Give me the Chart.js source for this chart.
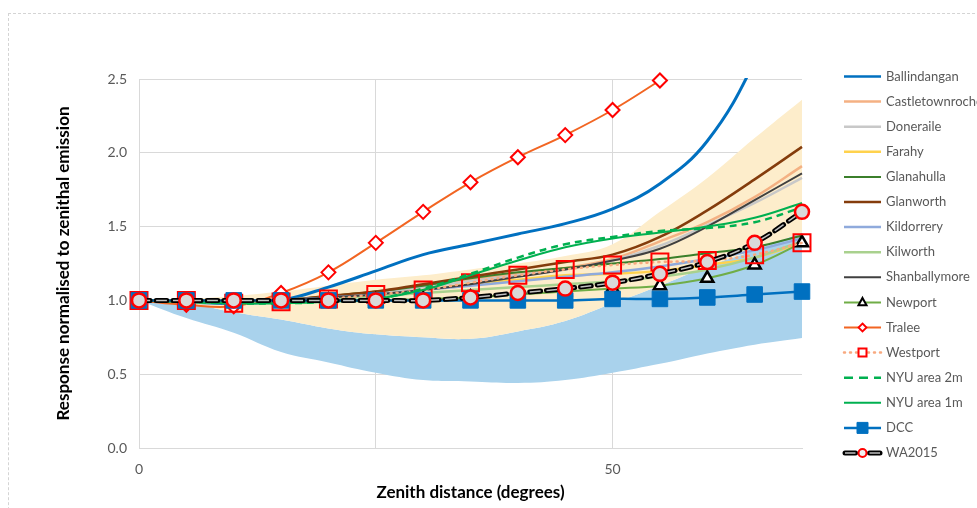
<!DOCTYPE html>
<html>
<head>
<meta charset="utf-8">
<script src="https://cdn.jsdelivr.net/npm/chart.js@4.4.1/dist/chart.umd.min.js"></script>
<style>
  html, body { margin: 0; padding: 0; background: #fff; overflow: hidden; }
  #wrap { position: relative; width: 977px; height: 508px; overflow: hidden; }
  #frame { position: absolute; left: 8px; top: 13px; width: 1000px; height: 600px; border: 1px dashed #d4d4d4; }
  #c { position: absolute; left: 0; top: 0; }
</style>
</head>
<body>
<div id="wrap"><div id="frame"></div><canvas id="c" width="977" height="508"></canvas></div>
<script>
// zenith distance, degrees
const zenith = [0, 5, 10, 15, 20, 25, 30, 35, 40, 45, 50, 55, 60, 65, 70];

// shaded ranges
const blueLow   = [1.00, 0.88, 0.78, 0.65, 0.58, 0.51, 0.46, 0.45, 0.44, 0.46, 0.51, 0.57, 0.64, 0.70, 0.745];
const blueHigh  = [1.00, 0.98, 0.92, 0.87, 0.81, 0.77, 0.75, 0.74, 0.79, 0.86, 0.98, 1.10, 1.23, 1.34, 1.46];
const creamHigh = [1.00, 1.01, 1.03, 1.06, 1.10, 1.14, 1.17, 1.21, 1.25, 1.30, 1.38, 1.60, 1.83, 2.10, 2.36];

// sites
const ballindangan    = [1.00, 0.99, 0.98, 1.00, 1.09, 1.20, 1.31, 1.38, 1.45, 1.52, 1.62, 1.79, 2.08, 2.62, 3.40];
const castletownroche = [1.00, 0.99, 0.99, 1.00, 1.03, 1.06, 1.10, 1.14, 1.18, 1.22, 1.28, 1.40, 1.53, 1.70, 1.91];
const doneraile       = [1.00, 0.99, 0.99, 1.00, 1.02, 1.05, 1.09, 1.13, 1.17, 1.21, 1.27, 1.37, 1.51, 1.66, 1.83];
const farahy          = [1.00, 0.99, 0.99, 1.00, 1.02, 1.04, 1.07, 1.11, 1.14, 1.17, 1.18, 1.20, 1.24, 1.29, 1.39];
const glanahulla      = [1.00, 0.99, 0.99, 1.00, 1.03, 1.06, 1.10, 1.15, 1.19, 1.22, 1.25, 1.28, 1.32, 1.36, 1.44];
const glanworth       = [1.00, 0.99, 0.99, 1.00, 1.03, 1.06, 1.11, 1.16, 1.21, 1.26, 1.31, 1.43, 1.61, 1.82, 2.04];
const kildorrery      = [1.00, 0.99, 0.99, 1.00, 1.02, 1.04, 1.07, 1.10, 1.13, 1.16, 1.19, 1.23, 1.28, 1.34, 1.42];
const kilworth        = [1.00, 0.99, 0.99, 1.00, 1.01, 1.03, 1.05, 1.07, 1.09, 1.11, 1.13, 1.16, 1.21, 1.29, 1.40];
const shanballymore   = [1.00, 0.99, 0.99, 1.00, 1.02, 1.04, 1.07, 1.11, 1.16, 1.21, 1.27, 1.35, 1.50, 1.68, 1.86];
const newport         = [1.00, 0.99, 0.99, 0.99, 1.00, 1.00, 1.01, 1.02, 1.04, 1.06, 1.08, 1.10, 1.15, 1.24, 1.39];
const tralee          = [1.00, 0.97, 0.96, 1.05, 1.19, 1.39, 1.60, 1.80, 1.97, 2.12, 2.29, 2.49, null, null, null];
const westport        = [1.00, 1.00, 0.98, 0.99, 1.01, 1.04, 1.07, 1.12, 1.17, 1.21, 1.24, 1.26, 1.27, 1.31, 1.39];
const nyu2m           = [1.00, 0.99, 0.98, 0.98, 0.99, 1.01, 1.08, 1.18, 1.29, 1.38, 1.43, 1.47, 1.49, 1.53, 1.63];
const nyu1m           = [1.00, 0.99, 0.98, 0.98, 0.99, 1.01, 1.07, 1.17, 1.27, 1.36, 1.42, 1.46, 1.50, 1.56, 1.66];
const dcc             = [1.00, 1.00, 1.00, 1.00, 1.00, 1.00, 1.00, 1.00, 1.00, 1.00, 1.01, 1.01, 1.02, 1.04, 1.06];
const wa2015          = [1.00, 1.00, 1.00, 1.00, 1.00, 1.00, 1.00, 1.02, 1.05, 1.08, 1.12, 1.18, 1.26, 1.39, 1.60];

const yTicks = [0, 0.5, 1.0, 1.5, 2.0, 2.5];
const xLabelled = [0, 50];

function pts(arr) {
  return zenith.map((x, i) => ({ x: x, y: arr[i] }));
}

// series in legend order, with their look
const series = [
  { label: 'Ballindangan', data: ballindangan, color: '#0070C0', width: 3 },
  { label: 'Castletownroche', data: castletownroche, color: '#F4B183', width: 2.5 },
  { label: 'Doneraile', data: doneraile, color: '#C8C8C8', width: 2.5 },
  { label: 'Farahy', data: farahy, color: '#FFD24D', width: 2.5 },
  { label: 'Glanahulla', data: glanahulla, color: '#3B7F2B', width: 2 },
  { label: 'Glanworth', data: glanworth, color: '#843C0C', width: 2.5 },
  { label: 'Kildorrery', data: kildorrery, color: '#8FAADC', width: 2.5 },
  { label: 'Kilworth', data: kilworth, color: '#A9D18E', width: 2.5 },
  { label: 'Shanballymore', data: shanballymore, color: '#404040', width: 2 },
  { label: 'Newport', data: newport, color: '#70AD47', width: 2,
    marker: { style: 'triangle', r: 7, fill: '#fff', stroke: '#000', lw: 2.5 },
    legendMarker: { style: 'triangle', r: 4.5, fill: '#fff', stroke: '#000', lw: 2 } },
  { label: 'Tralee', data: tralee, color: '#F26522', width: 2,
    marker: { style: 'rectRot', r: 7, fill: '#fff', stroke: '#FF0000', lw: 2 },
    legendMarker: { style: 'rectRot', r: 4, fill: '#fff', stroke: '#FF0000', lw: 1.8 } },
  { label: 'Westport', data: westport, color: '#F8A97F', width: 2.5, dash: [1, 5], cap: 'round',
    marker: { style: 'rect', r: 12, fill: 'rgba(0,0,0,0)', stroke: '#FF0000', lw: 2 },
    legendMarker: { style: 'rect', r: 4, fill: '#fff', stroke: '#FF0000', lw: 2 } },
  { label: 'NYU area 2m', data: nyu2m, color: '#00B050', width: 2.5, dash: [7, 5] },
  { label: 'NYU area 1m', data: nyu1m, color: '#00B050', width: 2 },
  { label: 'DCC', data: dcc, color: '#0070C0', width: 2.5,
    marker: { style: 'rect', r: 11, fill: '#0070C0', stroke: '#0070C0', lw: 1 },
    legendMarker: { style: 'rect', r: 5.5, fill: '#0070C0', stroke: '#0070C0', lw: 1 } },
  { label: 'WA2015', data: wa2015, color: '#000', width: 5, dash: [11, 6], cap: 'round', inner: '#BFBFBF',
    marker: { style: 'circle', r: 7, fill: '#D9D9D9', stroke: '#FF0000', lw: 2.5 },
    legendMarker: { style: 'circle', r: 4, fill: '#F2F2F2', stroke: '#FF0000', lw: 2 } }
];

const datasets = [
  { data: pts(blueLow), borderWidth: 0, borderColor: 'rgba(0,0,0,0)', fill: false },
  { data: pts(blueHigh), borderWidth: 0, borderColor: 'rgba(0,0,0,0)', fill: 0, backgroundColor: '#A9D2EC' },
  { data: pts(creamHigh), borderWidth: 0, borderColor: 'rgba(0,0,0,0)', fill: 1, backgroundColor: '#FDEDCB' }
];
series.forEach(s => {
  datasets.push({
    label: s.label, data: pts(s.data), borderColor: s.color, borderWidth: s.width,
    borderDash: s.dash || [], borderCapStyle: s.cap || 'butt',
    clip: s.label === 'Ballindangan' ? 1 : false
  });
  if (s.inner) {
    datasets.push({ data: pts(s.data), borderColor: s.inner, borderWidth: 1.5, borderDash: s.dash, clip: false });
  }
  if (s.marker) {
    datasets.push({
      data: pts(s.data), showLine: false, clip: false,
      pointStyle: s.marker.style, pointRadius: s.marker.r,
      pointBackgroundColor: s.marker.fill, pointBorderColor: s.marker.stroke, pointBorderWidth: s.marker.lw
    });
  }
});
// later entries on top
datasets.forEach((d, i) => { d.order = datasets.length - i; });

function drawMarker(ctx, m, x, y) {
  ctx.save();
  ctx.beginPath();
  if (m.style === 'circle') {
    ctx.arc(x, y, m.r, 0, Math.PI * 2);
  } else if (m.style === 'rect') {
    ctx.rect(x - m.r, y - m.r, 2 * m.r, 2 * m.r);
  } else if (m.style === 'rectRot') {
    ctx.moveTo(x, y - m.r); ctx.lineTo(x + m.r, y); ctx.lineTo(x, y + m.r); ctx.lineTo(x - m.r, y); ctx.closePath();
  } else if (m.style === 'triangle') {
    ctx.moveTo(x, y - m.r); ctx.lineTo(x + m.r * 0.9, y + m.r * 0.65); ctx.lineTo(x - m.r * 0.9, y + m.r * 0.65); ctx.closePath();
  }
  ctx.fillStyle = m.fill; ctx.fill();
  ctx.lineWidth = m.lw; ctx.strokeStyle = m.stroke; ctx.stroke();
  ctx.restore();
}

const sideLegend = {
  id: 'sideLegend',
  afterDraw(chart) {
    const ctx = chart.ctx;
    const x0 = 844, x1 = 881, mid = 862.5;
    series.forEach((s, i) => {
      const y = 76.5 + i * 25.1;
      ctx.save();
      ctx.strokeStyle = s.color;
      if (s.inner) {
        [[x0 + 1, mid - 7], [mid + 7, x1 - 1]].forEach(seg => {
          ctx.strokeStyle = '#000'; ctx.lineWidth = 5; ctx.lineCap = 'round';
          ctx.beginPath(); ctx.moveTo(seg[0], y); ctx.lineTo(seg[1], y); ctx.stroke();
          ctx.strokeStyle = s.inner; ctx.lineWidth = 1.5; ctx.lineCap = 'butt';
          ctx.beginPath(); ctx.moveTo(seg[0], y); ctx.lineTo(seg[1], y); ctx.stroke();
        });
      } else {
        ctx.lineWidth = Math.min(s.width, 2.5);
        ctx.setLineDash(s.dash ? (s.label === 'Westport' ? [1, 5] : [9, 6]) : []);
        ctx.lineCap = s.cap || 'butt';
        ctx.beginPath(); ctx.moveTo(x0, y); ctx.lineTo(x1, y); ctx.stroke();
      }
      ctx.restore();
      if (s.legendMarker) drawMarker(ctx, s.legendMarker, mid, y);
      ctx.save();
      ctx.fillStyle = '#595959';
      ctx.font = '13px Lato';
      ctx.textBaseline = 'middle';
      ctx.fillText(s.label, 886, y);
      ctx.restore();
    });
  }
};

new Chart(document.getElementById('c'), {
  type: 'line',
  data: { datasets: datasets },
  plugins: [sideLegend],
  options: {
    responsive: false,
    animation: false,
    events: [],
    layout: { padding: { left: 0, right: 175, top: 79, bottom: 0 } },
    plugins: { legend: { display: false }, tooltip: { enabled: false } },
    elements: { line: { tension: 0.4, fill: false }, point: { radius: 0, hoverRadius: 0 } },
    scales: {
      x: {
        type: 'linear', min: 0, max: 70,
        afterFit: s => { s.height = 60; },
        grid: { color: '#D9D9D9', drawTicks: false },
        border: { color: '#D9D9D9' },
        ticks: {
          stepSize: 25, includeBounds: false, maxRotation: 0, padding: 13,
          color: '#595959', font: { family: 'Lato', size: 14 },
          callback: v => xLabelled.includes(v) ? String(v) : ''
        },
        title: {
          display: true, text: 'Zenith distance (degrees)', color: '#000',
          font: { family: 'Lato', size: 17, weight: 'bold' }, padding: { top: 0, bottom: 5 }
        }
      },
      y: {
        min: 0, max: 2.5,
        afterFit: s => { s.width = 139; },
        afterBuildTicks: s => { s.ticks = yTicks.map(v => ({ value: v })); },
        grid: { color: '#D9D9D9', drawTicks: false },
        border: { color: '#D9D9D9' },
        ticks: {
          padding: 12, color: '#595959', font: { family: 'Lato', size: 14 },
          callback: v => v.toFixed(1)
        },
        title: {
          display: true, text: 'Response normalised to zenithal emission', color: '#000',
          font: { family: 'Lato', size: 17, weight: 'bold' }, padding: { top: 53, bottom: 0 }
        }
      }
    }
  }
});
</script>
</body>
</html>
